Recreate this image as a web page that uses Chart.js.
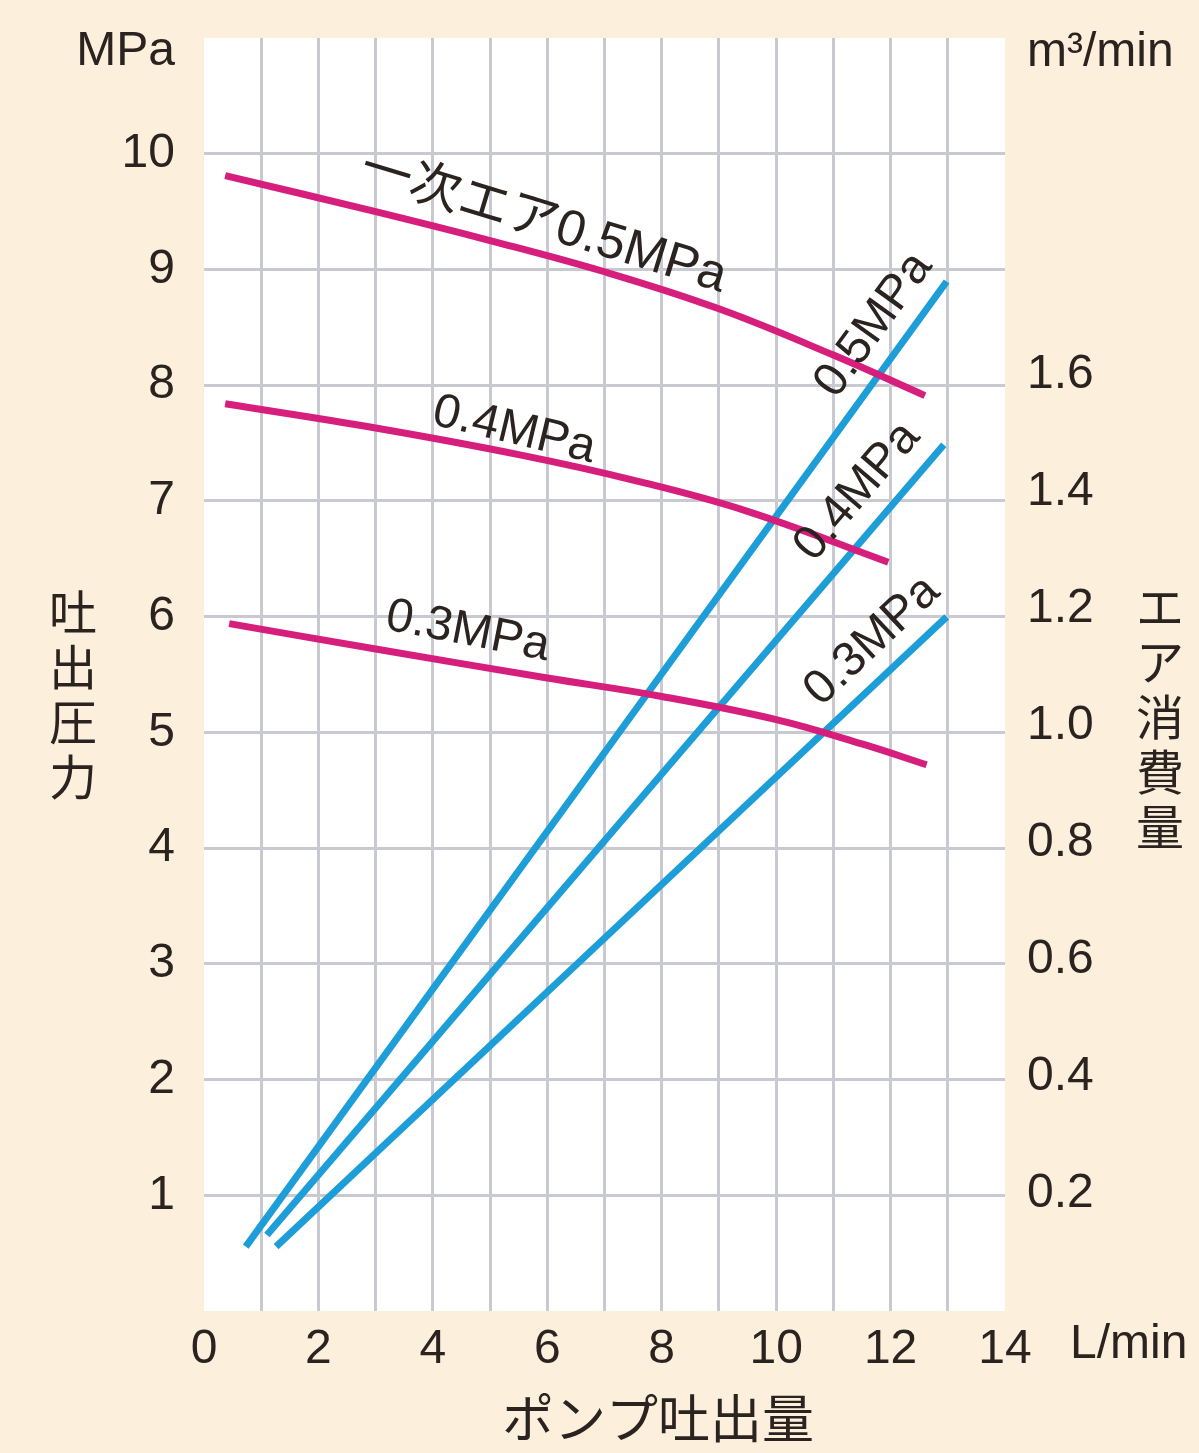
<!DOCTYPE html>
<html lang="ja">
<head>
<meta charset="utf-8">
<title>ポンプ吐出量 / 吐出圧力 / エア消費量</title>
<script src="https://cdn.jsdelivr.net/npm/chart.js@4.4.1/dist/chart.umd.min.js"></script>
<style>
  html, body { margin: 0; padding: 0; background: #fcefdc; }
  #wrap { width: 1199px; height: 1453px; }
</style>
</head>
<body>
<div id="wrap"><canvas id="pumpChart" width="1199" height="1453"></canvas></div>
<script>
(function () {
  "use strict";

  // pump discharge pressure (MPa) vs flow (L/min), by primary air pressure
  const primary05Flow = [0.37, 3, 5, 7, 9, 11, 12.6];
  const primary05Pressure = [9.81, 9.50, 9.25, 8.98, 8.66, 8.26, 7.91];
  const primary04Flow = [0.37, 3, 5.5, 7.5, 9.5, 11.96];
  const primary04Pressure = [7.84, 7.63, 7.40, 7.18, 6.91, 6.47];
  const primary03Flow = [0.44, 3, 6, 8, 10, 11.5, 12.63];
  const primary03Pressure = [5.94, 5.72, 5.47, 5.31, 5.11, 4.90, 4.72];

  // air consumption (m3/min) vs flow (L/min)
  const air05Flow = [0.73, 12.98];
  const air05Use = [0.110, 1.759];
  const air04Flow = [1.10, 12.93];
  const air04Use = [0.130, 1.480];
  const air03Flow = [1.26, 12.98];
  const air03Use = [0.110, 1.186];

  const flowTicks = [0, 2, 4, 6, 8, 10, 12, 14];
  const pressureTicks = [1, 2, 3, 4, 5, 6, 7, 8, 9, 10];
  const airTicks = [0.2, 0.4, 0.6, 0.8, 1.0, 1.2, 1.4, 1.6];

  const MAGENTA = "#d61f7d";
  const BLUE = "#1d9ed8";
  const GRID = "#c9c9d2";
  const INK = "#2a2320";
  const CREAM = "#fcefdc";
  const FONT = '"Liberation Sans", Arial, "Noto Sans CJK JP", sans-serif';
  const JP_FONT = '"Noto Sans CJK JP", "Liberation Sans", sans-serif';

  function points(xs, ys) {
    return xs.map((x, i) => ({x, y: ys[i]}));
  }

  function curve(xs, ys, color, axis) {
    return {
      data: points(xs, ys),
      showLine: true,
      borderColor: color,
      backgroundColor: color,
      borderWidth: 7,
      pointRadius: 0,
      pointHoverRadius: 0,
      tension: 0.4,
      yAxisID: axis,
    };
  }

  // labels along the lines, placed in left-axis data units
  const curveLabels = [
    {text: "一次エア0.5MPa", x: 5.93, y: 9.40, angle: 17, size: 51},
    {text: "0.4MPa", x: 5.42, y: 7.61, angle: 13.5},
    {text: "0.3MPa", x: 4.61, y: 5.87, angle: 11},
    {text: "0.5MPa", x: 11.71, y: 8.52, follow: 3},
    {text: "0.4MPa", x: 11.42, y: 7.08, follow: 4},
    {text: "0.3MPa", x: 11.68, y: 5.79, follow: 5},
  ];

  const plotBackground = {
    id: "plotBackground",
    beforeDraw(chart) {
      const {ctx, chartArea: a} = chart;
      ctx.save();
      ctx.fillStyle = CREAM;
      ctx.fillRect(0, 0, chart.width, chart.height);
      ctx.fillStyle = "#ffffff";
      ctx.fillRect(a.left, a.top, a.right - a.left, a.bottom - a.top);
      ctx.restore();
    },
  };

  const lineLabels = {
    id: "lineLabels",
    afterDatasetsDraw(chart) {
      const {ctx, scales} = chart;
      ctx.save();
      ctx.fillStyle = INK;
      ctx.textAlign = "center";
      ctx.textBaseline = "middle";
      curveLabels.forEach((lab) => {
        let rad = (lab.angle || 0) * Math.PI / 180;
        if (lab.follow !== undefined) {
          const pts = chart.getDatasetMeta(lab.follow).data;
          const p0 = pts[0];
          const p1 = pts[pts.length - 1];
          rad = Math.atan2(p1.y - p0.y, p1.x - p0.x);
        }
        ctx.save();
        ctx.font = (lab.size || 48) + "px " + FONT;
        ctx.translate(scales.x.getPixelForValue(lab.x), scales.y.getPixelForValue(lab.y));
        ctx.rotate(rad);
        ctx.fillText(lab.text, 0, 0);
        ctx.restore();
      });
      ctx.restore();
    },
  };

  function drawStacked(ctx, text, x, y0, step) {
    Array.from(text).forEach((ch, i) => ctx.fillText(ch, x, y0 + i * step));
  }

  const axisTitles = {
    id: "axisTitles",
    afterDraw(chart) {
      const {ctx} = chart;
      ctx.save();
      ctx.fillStyle = INK;
      ctx.textBaseline = "middle";
      ctx.font = "48px " + FONT;
      ctx.textAlign = "right";
      ctx.fillText("MPa", 175, 52);
      ctx.textAlign = "left";
      ctx.fillText("m³/min", 1027, 53);
      ctx.fillText("L/min", 1070, 1345);

      ctx.font = "52px " + JP_FONT;
      ctx.textAlign = "center";
      ctx.fillText("ポンプ吐出量", 658, 1418);
      ctx.font = "48px " + JP_FONT;
      drawStacked(ctx, "吐出圧力", 73, 612, 55);
      drawStacked(ctx, "エア消費量", 1160, 607, 55);
      ctx.restore();
    },
  };

  function noPadding(scale) {
    scale.paddingTop = 0;
    scale.paddingBottom = 0;
    scale.paddingLeft = 0;
    scale.paddingRight = 0;
  }

  const tickFont = {family: FONT, size: 48};

  new Chart(document.getElementById("pumpChart"), {
    type: "scatter",
    data: {
      datasets: [
        curve(primary05Flow, primary05Pressure, MAGENTA, "y"),
        curve(primary04Flow, primary04Pressure, MAGENTA, "y"),
        curve(primary03Flow, primary03Pressure, MAGENTA, "y"),
        curve(air05Flow, air05Use, BLUE, "y2"),
        curve(air04Flow, air04Use, BLUE, "y2"),
        curve(air03Flow, air03Use, BLUE, "y2"),
      ],
    },
    options: {
      responsive: false,
      devicePixelRatio: 1,
      animation: false,
      events: [],
      layout: {padding: {top: 38, left: 0, right: 0, bottom: 0}},
      plugins: {legend: {display: false}, tooltip: {enabled: false}},
      scales: {
        x: {
          type: "linear",
          min: 0,
          max: 14,
          afterFit(scale) { scale.height = 142; noPadding(scale); },
          afterBuildTicks(scale) {
            scale.ticks = Array.from({length: 15}, (_, i) => ({value: i}));
          },
          border: {display: false},
          grid: {
            drawTicks: false,
            lineWidth: 3,
            color: (c) => (c.tick && (c.tick.value === 0 || c.tick.value === 14) ? "rgba(0,0,0,0)" : GRID),
          },
          ticks: {
            autoSkip: false,
            maxRotation: 0,
            padding: 10,
            color: INK,
            font: tickFont,
            callback: (v) => (flowTicks.includes(v) ? String(v) : ""),
          },
        },
        y: {
          type: "linear",
          position: "left",
          min: 0,
          max: 11,
          afterFit(scale) { scale.width = 204; noPadding(scale); },
          afterBuildTicks(scale) {
            scale.ticks = Array.from({length: 12}, (_, i) => ({value: i}));
          },
          border: {display: false},
          grid: {
            drawTicks: false,
            lineWidth: 3,
            color: (c) => (c.tick && (c.tick.value === 0 || c.tick.value === 11) ? "rgba(0,0,0,0)" : GRID),
          },
          ticks: {
            padding: 29,
            color: INK,
            font: tickFont,
            callback: (v) => (pressureTicks.includes(v) ? String(v) : ""),
          },
        },
        y2: {
          type: "linear",
          position: "right",
          min: 0,
          max: 2.175,
          afterFit(scale) { scale.width = 194; noPadding(scale); },
          afterBuildTicks(scale) {
            scale.ticks = airTicks.map((v) => ({value: v}));
          },
          border: {display: false},
          grid: {display: false, drawTicks: false},
          ticks: {
            padding: 22,
            color: INK,
            font: tickFont,
            callback: (v) => v.toFixed(1),
          },
        },
      },
    },
    plugins: [plotBackground, lineLabels, axisTitles],
  });
})();
</script>
</body>
</html>
